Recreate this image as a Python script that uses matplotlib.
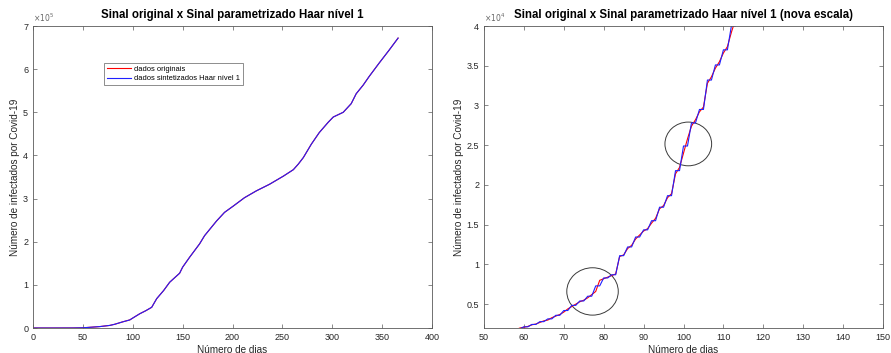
import matplotlib
matplotlib.use("Agg")
import matplotlib.pyplot as plt
from matplotlib.patches import Ellipse
import numpy as np

plt.rcParams['font.family'] = ['Liberation Sans', 'DejaVu Sans']

# serie completa (amostrada do grafico), casos x 1e5
dias = [1, 20, 40, 50, 60, 67, 77, 82, 90, 97, 101, 107, 113, 119, 122, 124,
        131, 137, 147, 150, 157, 167, 172, 184, 192, 201, 212, 224, 237, 251,
        261, 266, 271, 279, 287, 296, 301, 311, 319, 324, 331, 337, 347, 357,
        366]
casos = [0, 0, 0.001, 0.005, 0.021, 0.033, 0.06, 0.087, 0.143, 0.187, 0.245,
         0.33, 0.40, 0.48, 0.60, 0.68, 0.87, 1.06, 1.27, 1.41, 1.64, 1.95,
         2.14, 2.48, 2.68, 2.83, 3.02, 3.18, 3.33, 3.52, 3.67, 3.80, 3.95,
         4.26, 4.53, 4.77, 4.89, 5.00, 5.20, 5.43, 5.63, 5.83, 6.14, 6.44,
         6.72]

# trecho diario (dias 56..115), casos x 1e4
dias_zoom = list(range(56, 116))
casos_zoom = [0.16, 0.17, 0.18, 0.20, 0.21, 0.22, 0.24, 0.25, 0.27, 0.29,
              0.30, 0.33, 0.35, 0.37, 0.40, 0.44, 0.47, 0.50, 0.53, 0.55,
              0.58, 0.62, 0.66, 0.80, 0.82, 0.84, 0.86, 0.88, 1.10, 1.12,
              1.20, 1.24, 1.32, 1.37, 1.42, 1.45, 1.52, 1.58, 1.70, 1.74,
              1.84, 1.89, 2.14, 2.22, 2.40, 2.58, 2.74, 2.82, 2.92, 2.98,
              3.28, 3.36, 3.47, 3.55, 3.66, 3.74, 3.92, 4.08, 4.25, 4.40]
# aproximacao Haar nivel 1 (um valor por par de dias)
haar_pares = [0.165, 0.19, 0.215, 0.245, 0.28, 0.315, 0.36, 0.42, 0.485, 0.54,
              0.60, 0.73, 0.83, 0.87, 1.11, 1.22, 1.345, 1.435, 1.55, 1.72,
              1.865, 2.18, 2.49, 2.78, 2.95, 3.32, 3.51, 3.70, 4.0, 4.325]

txt = '#262626'
eixo = '#5a5a5a'


def estilo(ax):
    for s in ax.spines.values():
        s.set_color(eixo)
        s.set_linewidth(0.6)
    ax.tick_params(direction='in', top=True, right=True, length=3, width=0.5,
                   color=eixo, labelcolor=txt, labelsize=6.5, pad=3.5)


fig = plt.figure(figsize=(8.91, 3.53), dpi=100)
ax1 = fig.add_axes([33 / 891, 25 / 353, 399 / 891, 302 / 353])
ax2 = fig.add_axes([484 / 891, 25 / 353, 399 / 891, 302 / 353])

# grafico 1
c = np.array(casos) * 1e5
ax1.plot(dias, c, color='r', lw=0.8, label='dados originais')
ax1.plot(dias, c, color='#2020ff', lw=0.8,
         label='dados sintetizados Haar nível 1')
ax1.set_xlim(0, 400)
ax1.set_ylim(0, 7e5)
ax1.set_xticks(range(0, 401, 50))
ax1.set_yticks(np.arange(0, 8) * 1e5)
ax1.set_yticklabels([str(i) for i in range(8)])
estilo(ax1)
ax1.text(0, 1.008, r'$\times10^{5}$', transform=ax1.transAxes, fontsize=5.5,
         color='#666666', va='bottom', ha='left')
ax1.set_title('Sinal original x Sinal parametrizado Haar nível 1',
              fontsize=8.3, fontweight='bold', color='black', pad=6)
ax1.set_xlabel('Número de dias', fontsize=7.2, color=txt, labelpad=2)
ax1.set_ylabel('Número de infectados por Covid-19', fontsize=7.2, color=txt,
               labelpad=2)
leg = ax1.legend(loc='upper left', bbox_to_anchor=(0.178, 0.878),
                 fontsize=5.4, frameon=True, fancybox=False,
                 handlelength=3.3, handletextpad=0.4, borderpad=0.35,
                 labelspacing=0.3, borderaxespad=0)
leg.get_frame().set_edgecolor(eixo)
leg.get_frame().set_linewidth(0.6)

# grafico 2
cz = np.array(casos_zoom) * 1e4
hz = np.repeat(haar_pares, 2) * 1e4
ax2.plot(dias_zoom, cz, color='r', lw=0.8)
ax2.plot(dias_zoom, hz, color='#2020ff', lw=0.8)
ax2.add_patch(Ellipse((77.2, 6600), 12.9, 5960, fill=False, color='#3a3a3a',
                      lw=0.7))
ax2.add_patch(Ellipse((101.2, 25160), 11.7, 5500, fill=False, color='#3a3a3a',
                      lw=0.7))
ax2.set_xlim(50, 150)
ax2.set_ylim(2000, 40000)
ax2.set_xticks(range(50, 151, 10))
yt = [0.5, 1, 1.5, 2, 2.5, 3, 3.5, 4]
ax2.set_yticks(np.array(yt) * 1e4)
ax2.set_yticklabels(['%g' % v for v in yt])
estilo(ax2)
ax2.text(0, 1.008, r'$\times10^{4}$', transform=ax2.transAxes, fontsize=5.5,
         color='#666666', va='bottom', ha='left')
ax2.set_title('Sinal original x Sinal parametrizado Haar nível 1 (nova escala)',
              fontsize=8.3, fontweight='bold', color='black', pad=6)
ax2.set_xlabel('Número de dias', fontsize=7.2, color=txt, labelpad=2)
ax2.set_ylabel('Número de infectados por Covid-19', fontsize=7.2, color=txt,
               labelpad=2)

fig.savefig('out.png', dpi=100)
